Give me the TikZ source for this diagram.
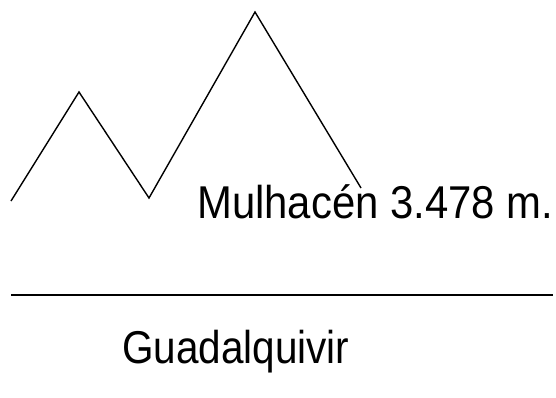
\documentclass[tikz,border=0pt]{standalone}
\usepackage{fontspec}
\newfontfamily\narrowsans{Liberation Sans}[FakeStretch=0.88]
\newfontfamily\peaksans{Liberation Sans}[FakeStretch=0.91]
\usepackage{tikz}
\usetikzlibrary{positioning}

\begin{document}
\begin{tikzpicture}[
  x=1pt, y=-1pt,
  ridge/.style={line width=1.4pt, line join=miter},
  river/.style={line width=2pt},
  place/.style={inner sep=0pt, anchor=base west,
    font=\narrowsans\fontsize{46}{50}\selectfont},
]
  \useasboundingbox (0,0) rectangle (556,398);

  % sierra profile
  \coordinate (s0) at (11,201);
  \coordinate (s1) at (79,92);
  \coordinate (s2) at (149,198);
  \coordinate (top) at (255,12);
  \coordinate (s4) at (361,188);
  \draw[ridge] (s0) -- (s1) -- (s2) -- (top) -- (s4);

  \node[place, font=\peaksans\fontsize{46}{50}\selectfont] (peak)
    at (197,218) {Mulhacén 3.478 m.};

  % river
  \coordinate (r0) at (11,295);
  \coordinate (r1) at (553,295);
  \draw[river] (r0) -- (r1);

  \node[place] (name) at (122,363) {Guadalquivir};
\end{tikzpicture}
\end{document}
